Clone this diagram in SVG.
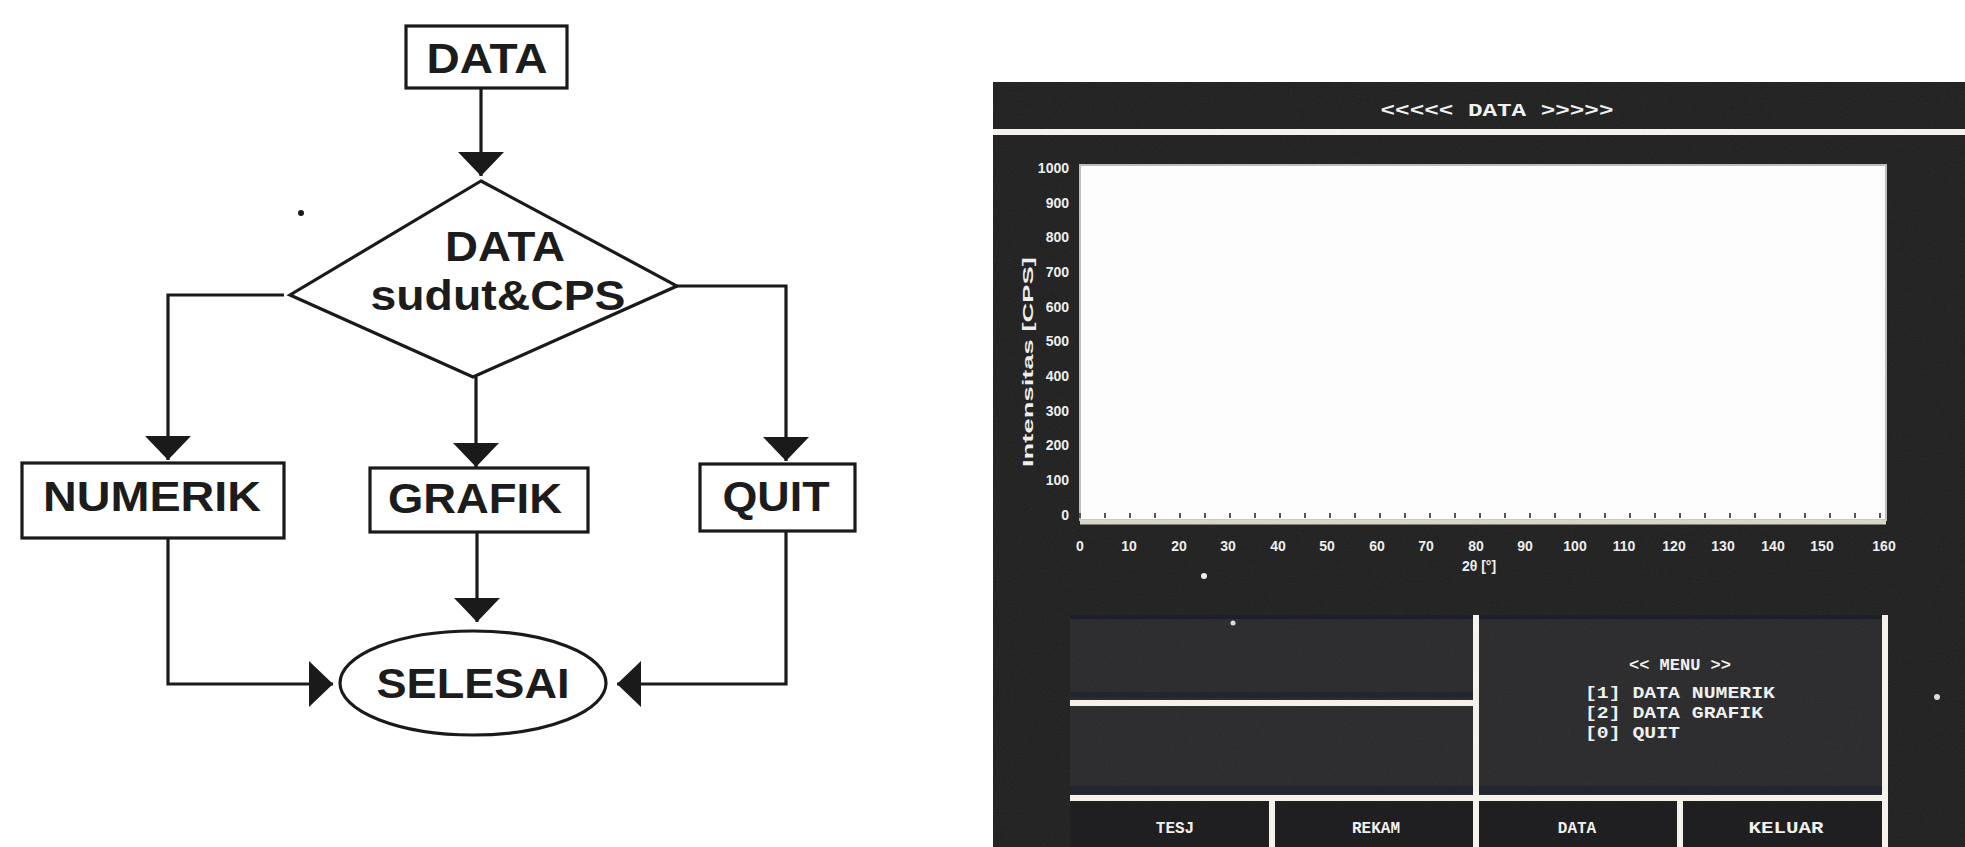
<svg xmlns="http://www.w3.org/2000/svg" width="1965" height="847" viewBox="0 0 1965 847">
<style>
.box{fill:#fff;stroke:#1a1a1a;stroke-width:3.2}
.ft{font-family:"Liberation Sans",Arial,sans-serif;font-weight:bold;font-size:42px;fill:#1c1c1c;text-anchor:middle}
.conn{fill:none;stroke:#1a1a1a;stroke-width:3.2}
.scr{font-family:"Liberation Mono","DejaVu Sans Mono",monospace;font-weight:bold;fill:#f0f0f0}
.wl{stroke:#f4f2ea;stroke-width:6}
.tick{font-family:"Liberation Sans",Arial,sans-serif;font-weight:bold;font-size:14px;fill:#eee}
</style>
<defs>
<marker id="ah" viewBox="0 0 24 46" refX="24" refY="23" markerWidth="24" markerHeight="46" markerUnits="userSpaceOnUse" orient="auto">
<path d="M0,0 L24,23 L0,46 z" fill="#1a1a1a"/>
</marker>
<filter id="grain" x="0" y="0" width="100%" height="100%">
<feTurbulence type="fractalNoise" baseFrequency="0.85" numOctaves="2" seed="7"/>
<feColorMatrix type="matrix" values="1 0 0 0 0  1 0 0 0 0  1 0 0 0 0  0 0 0 0 1"/>
</filter>
</defs>
<rect width="1965" height="847" fill="#ffffff"/>

<!-- Flowchart connectors -->
<g id="connectors">
<path class="conn" d="M481,88 L481,176" marker-end="url(#ah)"/>
<path class="conn" d="M284,295 L168,295 L168,460" marker-end="url(#ah)"/>
<path class="conn" d="M476,377 L476,467" marker-end="url(#ah)"/>
<path class="conn" d="M677,286 L786,286 L786,461" marker-end="url(#ah)"/>
<path class="conn" d="M168,538 L168,684 L333,684" marker-end="url(#ah)"/>
<path class="conn" d="M477,532 L477,622" marker-end="url(#ah)"/>
<path class="conn" d="M786,531 L786,684 L617,684" marker-end="url(#ah)"/>
</g>

<g id="node-data">
<rect class="box" x="406" y="26" width="161" height="62"/>
<text class="ft" x="487" y="73" textLength="121" lengthAdjust="spacingAndGlyphs">DATA</text>
</g>
<g id="node-decision">
<polygon class="box" points="481,181 677,286 473,377 290,295"/>
<text class="ft" x="505" y="261" textLength="120" lengthAdjust="spacingAndGlyphs">DATA</text>
<text class="ft" x="498" y="310" textLength="255" lengthAdjust="spacingAndGlyphs">sudut&amp;CPS</text>
</g>
<g id="node-numerik">
<rect class="box" x="22" y="463" width="262" height="75"/>
<text class="ft" x="152" y="511" textLength="218" lengthAdjust="spacingAndGlyphs">NUMERIK</text>
</g>
<g id="node-grafik">
<rect class="box" x="370" y="468" width="218" height="64"/>
<text class="ft" x="475" y="513" textLength="174" lengthAdjust="spacingAndGlyphs">GRAFIK</text>
</g>
<g id="node-quit">
<rect class="box" x="700" y="464" width="155" height="67"/>
<text class="ft" x="776" y="511" textLength="107" lengthAdjust="spacingAndGlyphs">QUIT</text>
</g>
<g id="node-selesai">
<ellipse class="box" cx="473" cy="683" rx="133" ry="52"/>
<text class="ft" x="473" y="698" textLength="193" lengthAdjust="spacingAndGlyphs">SELESAI</text>
</g>
<circle cx="301" cy="213" r="3" fill="#1a1a1a"/>

<!-- Screenshot panel -->
<g id="screen">
<rect x="993" y="82" width="972" height="765" fill="#161617"/>
<rect x="993" y="82" width="972" height="765" filter="url(#grain)" opacity="0.09"/>
<line class="wl" x1="993" y1="132" x2="1965" y2="132"/>
<text class="scr" x="1497" y="116" font-size="18" text-anchor="middle" textLength="233" lengthAdjust="spacingAndGlyphs">&lt;&lt;&lt;&lt;&lt; DATA &gt;&gt;&gt;&gt;&gt;</text>

<!-- plot -->
<rect x="1080" y="165" width="806" height="355" fill="#fdfdfd" stroke="#bdbdbd" stroke-width="2"/>
<line x1="1080" y1="522" x2="1886" y2="522" stroke="#d9d6c8" stroke-width="5"/>
<path d="M1080,518 v-5 M1105,518 v-5 M1130,518 v-5 M1155,518 v-5 M1180,518 v-5 M1205,518 v-5 M1230,518 v-5 M1255,518 v-5 M1280,518 v-5 M1305,518 v-5 M1330,518 v-5 M1355,518 v-5 M1380,518 v-5 M1405,518 v-5 M1430,518 v-5 M1455,518 v-5 M1480,518 v-5 M1505,518 v-5 M1530,518 v-5 M1555,518 v-5 M1580,518 v-5 M1605,518 v-5 M1630,518 v-5 M1655,518 v-5 M1680,518 v-5 M1705,518 v-5 M1730,518 v-5 M1755,518 v-5 M1780,518 v-5 M1805,518 v-5 M1830,518 v-5 M1855,518 v-5 M1880,518 v-5" stroke="#555" stroke-width="2"/>
<g class="tick" text-anchor="end">
<text x="1069" y="173">1000</text>
<text x="1069" y="208">900</text>
<text x="1069" y="242">800</text>
<text x="1069" y="277">700</text>
<text x="1069" y="312">600</text>
<text x="1069" y="346">500</text>
<text x="1069" y="381">400</text>
<text x="1069" y="416">300</text>
<text x="1069" y="450">200</text>
<text x="1069" y="485">100</text>
<text x="1069" y="520">0</text>
</g>
<text class="tick" transform="translate(1033,362) rotate(-90)" text-anchor="middle" textLength="210" lengthAdjust="spacingAndGlyphs">Intensitas [CPS]</text>
<g class="tick" text-anchor="middle">
<text x="1080" y="551">0</text>
<text x="1129" y="551">10</text>
<text x="1179" y="551">20</text>
<text x="1228" y="551">30</text>
<text x="1278" y="551">40</text>
<text x="1327" y="551">50</text>
<text x="1377" y="551">60</text>
<text x="1426" y="551">70</text>
<text x="1476" y="551">80</text>
<text x="1525" y="551">90</text>
<text x="1575" y="551">100</text>
<text x="1624" y="551">110</text>
<text x="1674" y="551">120</text>
<text x="1723" y="551">130</text>
<text x="1773" y="551">140</text>
<text x="1822" y="551">150</text>
<text x="1884" y="551">160</text>
</g>
<text class="tick" x="1479" y="571" text-anchor="middle">2θ [°]</text>
<circle cx="1204" cy="576" r="3" fill="#eee"/>

<!-- lower panels -->
<rect x="1070" y="615" width="815" height="232" fill="#222224"/>
<rect x="1070" y="615" width="815" height="232" filter="url(#grain)" opacity="0.08"/>
<rect x="1070" y="615" width="815" height="4" fill="#14182a" opacity="0.7"/>
<rect x="1070" y="692" width="403" height="6" fill="#181c30" opacity="0.5"/>
<rect x="1070" y="786" width="815" height="8" fill="#181c30" opacity="0.5"/>
<rect x="1070" y="801" width="815" height="46" fill="#19191c" opacity="0.7"/>
<line class="wl" x1="1070" y1="703" x2="1473" y2="703"/>
<line class="wl" x1="1070" y1="798" x2="1885" y2="798"/>
<line class="wl" x1="1476" y1="615" x2="1476" y2="847"/>
<line class="wl" x1="1885" y1="615" x2="1885" y2="847"/>
<line class="wl" x1="1272" y1="801" x2="1272" y2="847" stroke-width="4"/>
<line class="wl" x1="1680" y1="801" x2="1680" y2="847" stroke-width="4"/>
<circle cx="1233" cy="623" r="2.5" fill="#ddd"/>
<circle cx="1937" cy="697" r="3" fill="#ddd"/>

<text class="scr" x="1680" y="670" font-size="17" text-anchor="middle">&lt;&lt; MENU &gt;&gt;</text>
<text class="scr" x="1585" y="698" font-size="17" textLength="190" lengthAdjust="spacingAndGlyphs">[1] DATA NUMERIK</text>
<text class="scr" x="1585" y="718" font-size="17" textLength="178" lengthAdjust="spacingAndGlyphs">[2] DATA GRAFIK</text>
<text class="scr" x="1585" y="738" font-size="17" textLength="95" lengthAdjust="spacingAndGlyphs">[0] QUIT</text>

<text class="scr" x="1175" y="833" font-size="16" text-anchor="middle">TESJ</text>
<text class="scr" x="1376" y="833" font-size="16" text-anchor="middle">REKAM</text>
<text class="scr" x="1577" y="833" font-size="16" text-anchor="middle">DATA</text>
<text class="scr" x="1786" y="833" font-size="16" text-anchor="middle" textLength="75" lengthAdjust="spacingAndGlyphs">KELUAR</text>
</g>
</svg>
